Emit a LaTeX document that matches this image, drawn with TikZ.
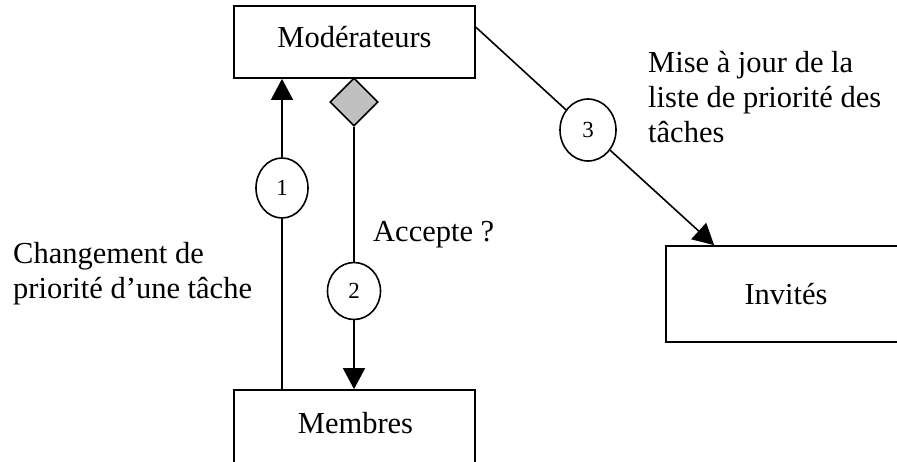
\documentclass[tikz,border=0pt]{standalone}
\usepackage{fontspec}
\setmainfont{Liberation Serif}
\usetikzlibrary{shapes.geometric,arrows.meta,calc}
\definecolor{diagray}{HTML}{C0C0C0}
\begin{document}
\begin{tikzpicture}[x=1pt,y=-1pt,
  box/.style={draw,line width=1.7pt,inner sep=0pt},
  lbl/.style={inner sep=0pt,font=\fontsize{30.5}{35}\selectfont},
  num/.style={draw,ellipse,line width=1.6pt,fill=white,inner sep=0pt,font=\fontsize{23}{26}\selectfont},
  line/.style={line width=1.6pt},
  arr/.style={line width=1.6pt,-{Triangle[length=21pt,width=22pt]}}]
\clip (0,0) rectangle (897,461);
% boxes
\node[box,minimum width=241pt,minimum height=72pt] (mod) at (354.5,42) {};
\node[lbl,anchor=base] (modt) at (354.5,47) {Modérateurs};
\node[box,minimum width=241pt,minimum height=80pt] (mem) at (354.5,430) {};
\node[lbl,anchor=base] (memt) at (355.5,433) {Membres};
\node[box,minimum width=240pt,minimum height=96pt] (inv) at (786,294) {};
\node[lbl,anchor=base] (invt) at (786,304) {Invités};
% diamond
\node[draw,diamond,aspect=1,fill=diagray,line width=1.6pt,inner sep=0pt,minimum size=48pt] (dia) at (354,102) {};
% numbered ellipses
\node[num,minimum width=52pt,minimum height=60pt] (c1) at (282,188) {1};
\node[num,minimum width=53pt,minimum height=57pt] (c2) at (354,291) {2};
\node[num,minimum width=56pt,minimum height=62pt] (c3) at (588,130) {3};
% connectors
\draw[line] (mem.north -| c1) -- (c1.south);
\draw[arr] (c1.north) -- (mod.south -| c1);
\draw[line] (dia.south) -- (c2.north);
\draw[arr] (c2.south) -- (mem.north -| c2);
\coordinate (m3) at ($(mod.north east)+(0,22)$);
\coordinate (i3) at ($(inv.north west)+(49,0)$);
\draw[line] (m3) -- (c3);
\draw[arr] (c3) -- (i3);
% labels
\node[lbl,anchor=base west,align=left] (tl) at (13,298) {Changement de\\priorité d’une tâche};
\node[lbl,anchor=base west,align=left] (tr) at (648,142) {Mise à jour de la\\liste de priorité des\\tâches};
\node[lbl,anchor=base west] (acc) at (373,241) {Accepte ?};
\end{tikzpicture}
\end{document}
